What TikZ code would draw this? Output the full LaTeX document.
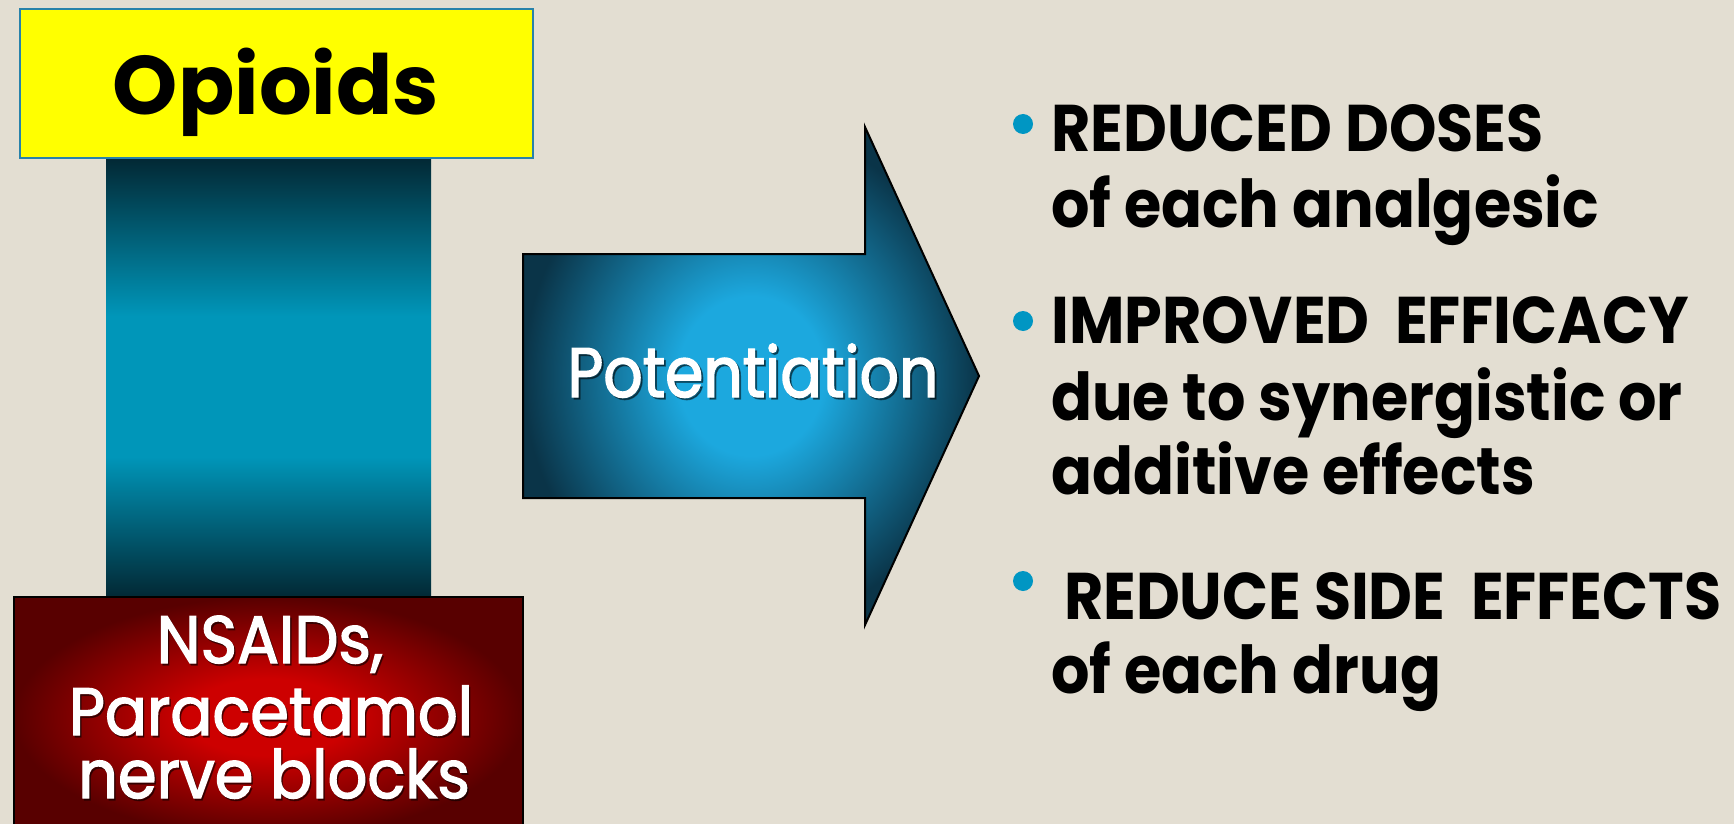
\documentclass[tikz,border=0pt]{standalone}
\usepackage{fontspec}
\setmainfont{Poppins}
\newfontfamily\listfont[FakeStretch=0.915]{Poppins}
\newfontfamily\boxfont[FakeBold=2,FakeStretch=0.93]{Poppins}
\newfontfamily\arrowfont[FakeBold=2,FakeStretch=0.88]{Poppins}

\definecolor{paper}{RGB}{227,222,210}
\definecolor{opioidyellow}{RGB}{255,255,0}
\definecolor{opioidedge}{RGB}{40,130,170}
\definecolor{coldark}{RGB}{2,40,52}
\definecolor{collight}{RGB}{0,150,185}
\definecolor{arrowlight}{RGB}{28,168,222}
\definecolor{arrowdark}{RGB}{10,52,72}
\definecolor{redlight}{RGB}{205,0,0}
\definecolor{reddark}{RGB}{88,0,0}
\definecolor{bulletblue}{RGB}{0,150,195}

% column: dark at both ends, bright teal in the middle
\pgfdeclareverticalshading{columnglow}{100bp}{color(0bp)=(coldark); color(25bp)=(coldark);
  color(41bp)=(collight); color(57bp)=(collight); color(75bp)=(coldark); color(100bp)=(coldark)}
% glow in the middle of the block arrow
\pgfdeclareradialshading{arrowglow}{\pgfpoint{0bp}{0bp}}{color(0bp)=(arrowlight);
  color(8bp)=(arrowlight); color(25bp)=(arrowdark); color(50bp)=(arrowdark)}
% glow in the middle of the red box
\pgfdeclareradialshading{redglow}{\pgfpoint{0bp}{0bp}}{color(0bp)=(redlight);
  color(8bp)=(redlight); color(25bp)=(reddark); color(50bp)=(reddark)}

\tikzset{
  plainbox/.style={inner sep=0pt, outer sep=0pt, anchor=north west},
  whitetext/.style={text=white, inner sep=0pt, anchor=base},
  shadowtext/.style={text=black, opacity=0.45, inner sep=0pt, anchor=base},
  listline/.style={inner sep=0pt, anchor=base west, font=\listfont\bfseries\fontsize{66}{70}\selectfont},
  bulletdot/.style={circle, fill=bulletblue, inner sep=0pt, minimum size=20pt},
}

\begin{document}
\begin{tikzpicture}[x=1pt,y=-1pt]
\useasboundingbox (0,0) rectangle (1734,824);
\clip (0,0) rectangle (1734,824);
\fill[paper] (0,0) rectangle (1734,824);

% teal column between the two boxes
\node[plainbox, shading=columnglow, minimum width=325pt, minimum height=439pt] (col) at (106,158) {};

% opioid box
\node[plainbox, fill=opioidyellow, draw=opioidedge, line width=2pt, minimum width=513pt, minimum height=149pt] (opi) at (20,9) {};
\node[inner sep=0pt, anchor=base, font=\bfseries\fontsize{83}{90}\selectfont] (opitext) at (276,115) {Opioids};

% NSAID box
\node[plainbox, shading=redglow, draw=black, line width=2pt, minimum width=509pt, minimum height=240pt] (nsaid) at (14,597) {};
\begin{scope}[font=\boxfont\fontsize{67}{70}\selectfont]
  \node[shadowtext] (n1s) at (271.5,665) {NSAIDs,};
  \node[shadowtext] (n2s) at (272.5,737) {Paracetamol};
  \node[shadowtext] (n3s) at (275.5,800) {nerve blocks};
  \node[whitetext] (n1) at (270,663) {NSAIDs,};
  \node[whitetext] (n2) at (271,735) {Paracetamol};
  \node[whitetext] (n3) at (274,798) {nerve blocks};
\end{scope}

% block arrow
\shadedraw[shading=arrowglow, draw=black, line width=2pt, line join=miter]
  (523,254) -- (865,254) -- (865,127) -- (979,376) -- (865,625) -- (865,498) -- (523,498) -- cycle;
\begin{scope}[font=\arrowfont\fontsize{70}{70}\selectfont]
  \node[shadowtext] (pots) at (755,399) {Potentiation};
  \node[whitetext] (pot) at (753,397) {Potentiation};
\end{scope}

% outcome list
\node[bulletdot] (b1) at (1023,124) {};
\node[bulletdot] (b2) at (1023,321) {};
\node[bulletdot] (b3) at (1023,581) {};
\node[listline] (l1) at (1051,151.5) {REDUCED DOSES};
\node[listline] (l2) at (1051,227) {of each analgesic};
\node[listline] (l3) at (1051,343) {IMPROVED\ \ EFFICACY};
\node[listline] (l4) at (1051,420) {due to synergistic or};
\node[listline] (l5) at (1051,494) {additive effects};
\node[listline] (l6) at (1051,619) {\ REDUCE SIDE\ \ EFFECTS};
\node[listline] (l7) at (1051,693) {of each drug};
\end{tikzpicture}
\end{document}
